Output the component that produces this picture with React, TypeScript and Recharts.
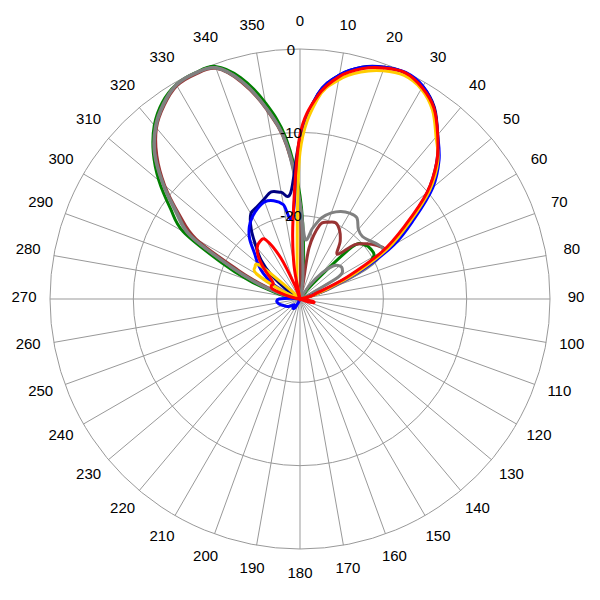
import { RadarChart, PolarGrid, PolarAngleAxis, PolarRadiusAxis, Radar } from "recharts";

// angle of each sample, degrees clockwise from top
const ANGLES = [
  0, 5, 10, 15, 20, 25, 30, 35, 40, 45, 50, 55,
  60, 65, 70, 75, 80, 85, 90, 95, 100, 105, 110, 115,
  120, 125, 130, 135, 140, 145, 150, 155, 160, 165, 170, 175,
  180, 185, 190, 195, 200, 205, 210, 215, 220, 225, 230, 235,
  240, 245, 250, 255, 260, 265, 270, 275, 280, 285, 290, 295,
  300, 305, 310, 315, 320, 325, 330, 335, 340, 345, 350, 355,
];

const ANGLE_LABELS = [
  0, 10, 20, 30, 40, 50, 60, 70, 80, 90, 100, 110, 120, 130, 140, 150, 160, 170,
  180, 190, 200, 210, 220, 230, 240, 250, 260, 270, 280, 290, 300, 310, 320, 330, 340, 350,
];

const DB_TICKS = [-30, -20, -10, 0];

// gain in dB, one value per angle
const NAVY = [
  -10.8, -5.3, -2.7, -1.2, -0.4, -0.05, -0.55, -1.9, -4.3, -6.8, -10, -14.2,
  -18, -23, -27.3, -29, -30, -30, -30, -30, -30, -30, -30, -30,
  -30, -30, -30, -30, -30, -30, -30, -30, -30, -30, -30, -30,
  -30, -30, -30, -30, -30, -30, -30, -30, -30, -30, -30, -30,
  -30, -30, -30, -30, -30, -30, -30, -30, -30, -30, -30, -30,
  -30, -28, -25.5, -23.4, -21.8, -19.8, -18.2, -17.8, -17.3, -16.7, -17.0, -17.2,
];

const BLUE = [
  -10.8, -5.3, -2.7, -1.2, -0.4, 0, -0.5, -2.0, -4.3, -6.4, -9.2, -13.3,
  -17, -22, -26.5, -28.8, -30, -30, -30, -30, -30, -30, -30, -30,
  -30, -30, -30, -30, -30, -30, -30, -30, -30, -30, -30, -30,
  -30, -30, -30, -30, -30, -29.5, -28.8, -28.6, -28.7, -29, -28.8, -28.5,
  -28.2, -28, -27.8, -27.5, -27.3, -27.2, -27.5, -29, -30, -30, -29, -27.5,
  -26, -24.6, -23.4, -22.3, -20.6, -19.4, -18.6, -18, -17.6, -17.8, -18.5, -20,
];

const YELLOW = [
  -12.4, -5.9, -3.3, -1.8, -0.85, -0.4, -0.9, -2.3, -4.6, -6.6, -9.7, -14,
  -17.8, -22.6, -26.8, -28.6, -30, -30, -30, -30, -30, -30, -30, -30,
  -30, -30, -30, -30, -30, -30, -30, -30, -30, -30, -30, -30,
  -30, -30, -30, -30, -30, -30, -30, -30, -30, -30, -30, -30,
  -30, -30, -30, -30, -30, -30, -30, -30, -30, -30, -30, -27.5,
  -24, -23.4, -23.8, -29, -30, -30, -30, -30, -30, -30, -28, -25.9,
];

const RED = [
  -10.3, -5.5, -2.9, -1.4, -0.5, -0.05, -0.7, -2.0, -4.3, -6.8, -10.1, -14.6,
  -18.6, -23.8, -27.7, -28.6, -30, -30, -30, -29.5, -28.5, -28.3, -29.2, -30,
  -30, -30, -30, -30, -30, -30, -30, -30, -30, -30, -30, -30,
  -30, -30, -30, -30, -30, -30, -30, -30, -30, -30, -30, -30,
  -30, -30, -30, -30, -30, -30, -30, -30, -29.5, -28.2, -26.5, -26.2,
  -26.3, -25.7, -24.4, -23, -22, -21.6, -21.8, -24.6, -28.5, -30, -25.8, -20.4,
];

const GREEN = [
  -17.6, -25, -30, -30, -30, -30, -30, -30, -27.6, -21.2, -19.9, -19.6,
  -19.8, -22, -26.5, -29, -30, -30, -30, -30, -30, -30, -30, -30,
  -30, -30, -30, -30, -30, -30, -30, -30, -30, -30, -30, -30,
  -30, -30, -30, -30, -30, -30, -30, -30, -30, -30, -30, -30,
  -30, -30, -30, -30, -30, -30, -30, -29.8, -28.5, -26.8, -23.5, -19.5,
  -13.8, -11.0, -7.9, -5.1, -2.8, -1.2, -0.3, -0.1, -0.3, -2.5, -6.1, -10.6,
];

const BROWN = [
  -18.8, -29, -23.8, -20.8, -20.2, -19.9, -20.5, -21.6, -23, -20.8, -19.7, -18.8,
  -18.4, -21.5, -26, -29, -30, -30, -30, -30, -30, -30, -30, -30,
  -30, -30, -30, -30, -30, -30, -30, -30, -30, -30, -30, -30,
  -30, -30, -30, -30, -30, -30, -30, -30, -30, -30, -30, -30,
  -30, -30, -30, -30, -30, -30, -30, -30, -29.6, -28.2, -25.5, -21.8,
  -15.6, -12.3, -8.8, -5.7, -3.2, -1.6, -0.45, -0.25, -0.55, -3.1, -6.9, -11.5,
];

const GRAY_A = [
  -18.6, -22.8, -21.4, -19.9, -19, -18.4, -18.1, -18.1, -19.1, -19.4, -19.1, -18.6,
  -18.5, -21, -26, -29, -30, -30, -30, -30, -30, -30, -30, -30,
  -30, -30, -30, -30, -30, -30, -30, -30, -30, -30, -30, -30,
  -30, -30, -30, -30, -30, -30, -30, -30, -30, -30, -30, -30,
  -30, -30, -30, -30, -30, -30, -30, -30, -29.2, -27.8, -24.8, -20.9,
  -14.9, -12, -8.6, -5.4, -3.1, -1.5, -0.35, -0.15, -0.5, -3.0, -6.8, -11.4,
];

const GRAY_B = [
  -18.4, -26, -28.5, -30, -30, -30, -30, -28, -25.9, -24.4, -23.8, -23.8,
  -24.6, -28.8, -30, -30, -30, -30, -30, -30, -30, -30, -30, -30,
  -30, -30, -30, -30, -30, -30, -30, -30, -30, -30, -30, -30,
  -30, -30, -30, -30, -30, -30, -30, -30, -30, -30, -30, -30,
  -30, -30, -30, -30, -30, -30, -30, -30, -29.1, -27.6, -24.6, -20.7,
  -14.7, -11.8, -8.5, -5.3, -3.0, -1.4, -0.3, -0.1, -0.45, -2.9, -6.7, -11.2,
];

const data = ANGLES.map((angle, i) => ({
  angle,
  navy: NAVY[i],
  blue: BLUE[i],
  yellow: YELLOW[i],
  red: RED[i],
  green: GREEN[i],
  brown: BROWN[i],
  grayA: GRAY_A[i],
  grayB: GRAY_B[i],
}));

const CX = 292;
const CY = 291;
const OUTER = 250;
const LABEL_R = 276;
const FONT = "'Liberation Sans', Arial, sans-serif";

const dbToRadius = (v: number) =>
  ((v - DB_TICKS[0]) / (DB_TICKS[DB_TICKS.length - 1] - DB_TICKS[0])) * OUTER;

type Pt = { x: number; y: number };

// closed Catmull-Rom through the points Radar computed, so lobes come out round
const smoothPath = (pts: Pt[]) => {
  const n = pts.length;
  const same = (a: Pt, b: Pt) => Math.abs(a.x - b.x) < 0.01 && Math.abs(a.y - b.y) < 0.01;
  let d = `M${pts[0].x},${pts[0].y}`;
  for (let i = 0; i < n; i++) {
    const p0 = pts[(i - 1 + n) % n];
    const p1 = pts[i];
    const p2 = pts[(i + 1) % n];
    const p3 = pts[(i + 2) % n];
    if (same(p1, p2)) {
      d += `L${p2.x},${p2.y}`;
      continue;
    }
    const c1x = p1.x + (p2.x - p0.x) / 6;
    const c1y = p1.y + (p2.y - p0.y) / 6;
    const c2x = p2.x - (p3.x - p1.x) / 6;
    const c2y = p2.y - (p3.y - p1.y) / 6;
    d += `C${c1x},${c1y} ${c2x},${c2y} ${p2.x},${p2.y}`;
  }
  return d + "Z";
};

const AngleTick = (props: any) => {
  const v = props.payload.value;
  if (!ANGLE_LABELS.includes(v)) return null;
  const rad = (v * Math.PI) / 180;
  return (
    <text
      x={CX + LABEL_R * Math.sin(rad)}
      y={CY - 3 - LABEL_R * Math.cos(rad)}
      textAnchor="middle"
      dominantBaseline="central"
      fontSize={15}
      fontFamily={FONT}
      fill="#000"
    >
      {v}
    </text>
  );
};

const RadiusTick = (props: any) => {
  const v = props.payload.value;
  if (v === DB_TICKS[0]) return null;
  return (
    <text
      x={props.x - 9}
      y={props.y}
      textAnchor="middle"
      dominantBaseline="central"
      fontSize={15}
      fontFamily={FONT}
      fill="#000"
    >
      {v}
    </text>
  );
};

const series = [
  { key: "green", color: "#008000" },
  { key: "brown", color: "#993333" },
  { key: "grayB", color: "#808080" },
  { key: "grayA", color: "#808080" },
  { key: "navy", color: "#000080" },
  { key: "blue", color: "#0000FF" },
  { key: "yellow", color: "#FFCC00" },
  { key: "red", color: "#FF0000" },
];

export default function App() {
  return (
    <RadarChart
      width={592}
      height={592}
      data={data}
      cx={CX}
      cy={CY}
      outerRadius={OUTER}
      startAngle={90}
      endAngle={-270}
    >
      <PolarGrid
        gridType="circle"
        stroke="#999"
        polarAngles={ANGLE_LABELS.map((a) => 90 - a)}
        polarRadius={DB_TICKS.slice(1).map(dbToRadius)}
      />
      <PolarAngleAxis dataKey="angle" tick={AngleTick} axisLine={false} tickLine={false} />
      {series.map((s) => (
        <Radar
          key={s.key}
          dataKey={s.key}
          stroke={s.color}
          strokeWidth={3}
          fill="none"
          fillOpacity={0}
          dot={false}
          isAnimationActive={false}
          shape={(p: any) => (
            <path
              d={smoothPath(p.points)}
              stroke={s.color}
              strokeWidth={3}
              strokeLinejoin="round"
              fill="none"
            />
          )}
        />
      ))}
      <PolarRadiusAxis
        angle={90}
        type="number"
        domain={[DB_TICKS[0], DB_TICKS[DB_TICKS.length - 1]]}
        tickCount={DB_TICKS.length}
        tick={RadiusTick}
        axisLine={false}
        tickLine={false}
      />
    </RadarChart>
  );
}
